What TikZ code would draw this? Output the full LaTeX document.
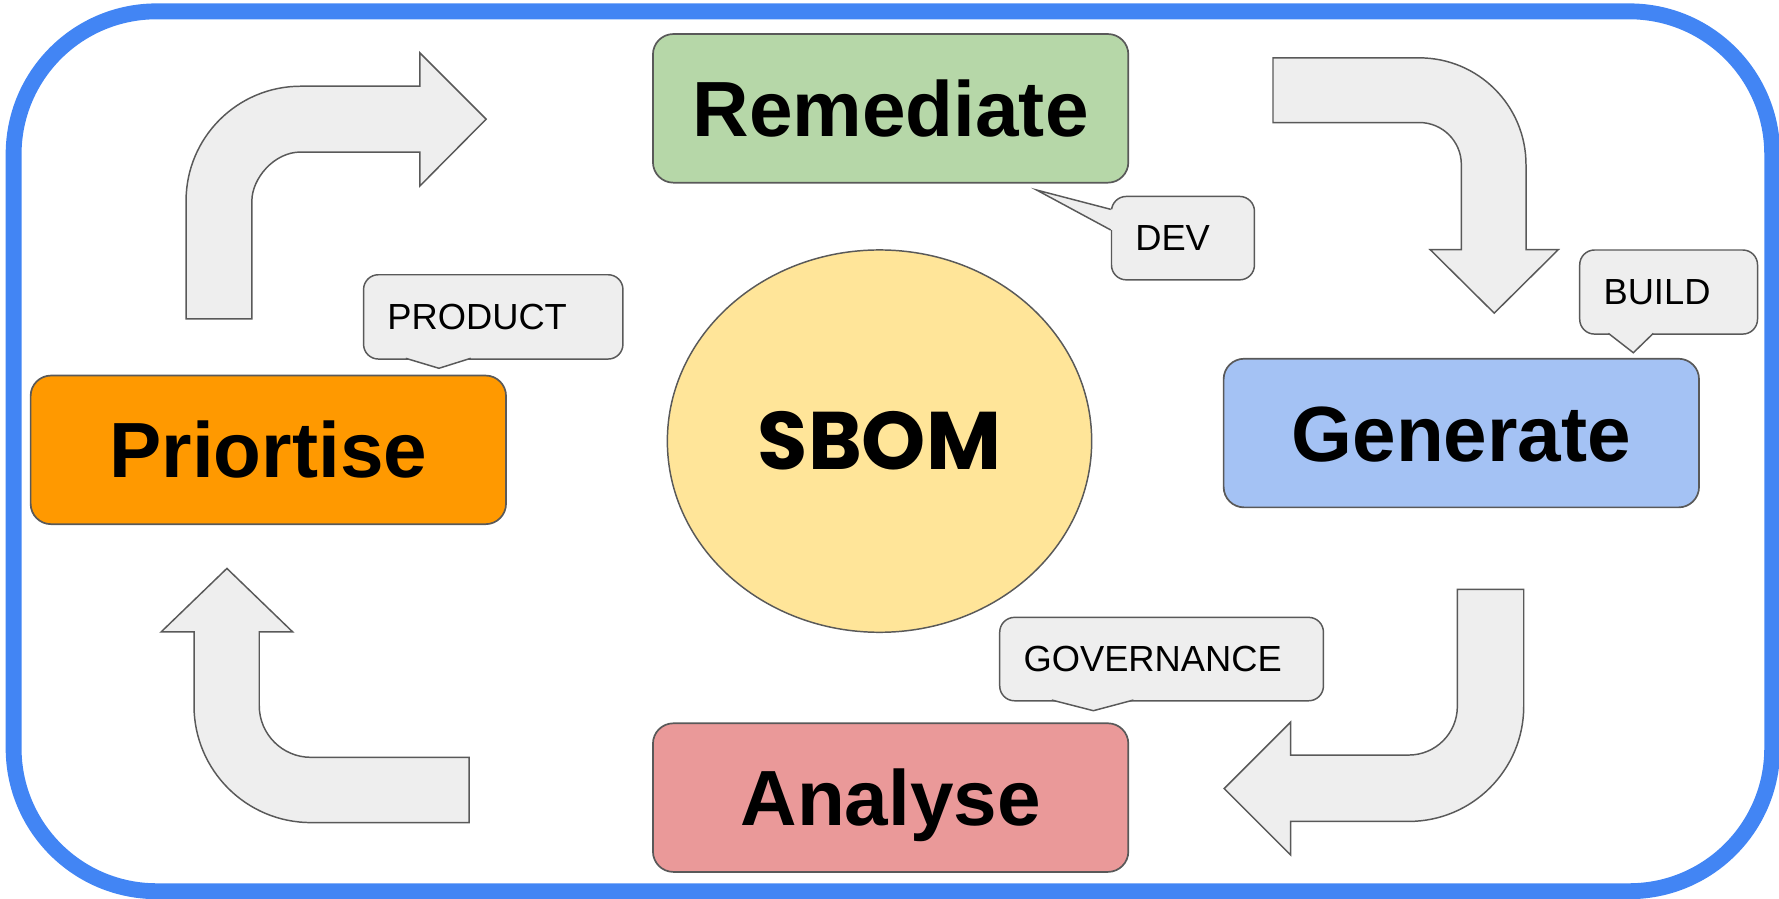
\documentclass[tikz,border=0pt]{standalone}
\usepackage{fontspec}
\setmainfont{Liberation Sans}
\newfontfamily\sbomfont{Poppins}
\usetikzlibrary{shapes.geometric}

\definecolor{framblue}{HTML}{4285F4}
\definecolor{linegray}{HTML}{595959}
\definecolor{boxgray}{HTML}{EEEEEE}
\definecolor{remgreen}{HTML}{B6D7A8}
\definecolor{genblue}{HTML}{A4C2F4}
\definecolor{anared}{HTML}{EA9999}
\definecolor{priorange}{HTML}{FF9900}
\definecolor{sbomyellow}{HTML}{FFE599}

\begin{document}
\begin{tikzpicture}[x=1pt, y=-1pt,
    stage/.style={draw=linegray, line width=1.5pt, rounded corners=18pt,
        minimum width=419pt, minimum height=131pt, inner sep=0pt,
        text height=49.5pt, text depth=0pt,
        font=\fontsize{69}{80}\selectfont\bfseries},
    callout/.style={draw=linegray, fill=boxgray, line width=1.3pt, rounded corners=13pt,
        anchor=north west, inner xsep=21pt, inner ysep=0pt, align=left,
        font=\fontsize{32}{38}\selectfont},
    blockarrow/.style={draw=linegray, fill=boxgray, line width=1.3pt, line join=miter}]

    \useasboundingbox (0,0) rectangle (1568,792);

    % outer frame
    \draw[framblue, line width=14pt, rounded corners=126pt] (12,10) rectangle (1562,785.5);

    % curved arrows round the cycle
    \draw[blockarrow] (164,281) -- (164,177) .. controls (164,121.2) and (209.2,76) .. (265,76)
        -- (370,76) -- (370,46.5) -- (428.5,105) -- (370,164) -- (370,134) -- (265,134)
        .. controls (241.3,134) and (222,157.7) .. (222,177) -- (222,281) -- cycle;
    \draw[blockarrow] (1122,51) -- (1251,51) .. controls (1302.9,51) and (1345,93.1) .. (1345,145)
        -- (1345,220) -- (1373.5,220) -- (1317,276) -- (1260.5,220) -- (1288,220) -- (1288,145)
        .. controls (1288,124.6) and (1271.4,108) .. (1251,108) -- (1122,108) -- cycle;
    \draw[blockarrow] (1284.5,519.5) -- (1343,519.5) -- (1343,622.5)
        .. controls (1343,678.6) and (1297.6,724) .. (1241.5,724) -- (1137.5,724) -- (1137.5,753.5)
        -- (1079,695) -- (1137.5,636.5) -- (1137.5,665.5) -- (1241.5,665.5)
        .. controls (1265.3,665.5) and (1284.5,646.3) .. (1284.5,622.5) -- cycle;
    \draw[blockarrow] (413.5,725) -- (274,725) .. controls (217.1,725) and (171,678.9) .. (171,622)
        -- (171,557) -- (142,557) -- (200,501) -- (258,557) -- (228.5,557) -- (228.5,622)
        .. controls (228.5,647.1) and (248.9,667.5) .. (274,667.5) -- (413.5,667.5) -- cycle;

    % stages
    \node[stage, fill=remgreen] (remediate) at (785,95.5) {Remediate};
    \node[stage, fill=genblue] (generate) at (1288,381.7) {Generate};
    \node[stage, fill=anared] (analyse) at (785,703) {Analyse};
    \node[stage, fill=priorange] (priortise) at (236.5,396.5) {Priortise};

    % centre
    \node[ellipse, draw=linegray, line width=1.3pt, fill=sbomyellow, inner sep=0pt,
        minimum width=374pt, minimum height=337pt,
        font=\fontsize{72}{80}\selectfont\sbomfont\bfseries] (sbom) at (775.2,388.8) {SBOM};

    % callouts
    \node[callout, minimum height=74.3pt, text width=186.6pt] (product) at (319.8,241.5) {PRODUCT};
    \fill[boxgray] (357.6,313) -- (357.6,315.8) -- (386.9,324.6) -- (414.9,315.8) -- (414.9,313) -- cycle;
    \draw[linegray, line width=1.3pt] (357.6,315.8) -- (386.9,324.6) -- (414.9,315.8);

    \node[callout, minimum height=73.5pt, text width=84pt] (dev) at (979,172.5) {DEV};
    \fill[boxgray] (981.5,184.5) -- (979,184.5) -- (913.7,167.5) -- (979,202.7) -- (981.5,202.7) -- cycle;
    \draw[linegray, line width=1.3pt] (979,184.5) -- (913.7,167.5) -- (979,202.7);

    \node[callout, minimum height=74.1pt, text width=114.7pt] (build) at (1391.7,219.7) {BUILD};
    \fill[boxgray] (1417.6,291) -- (1417.6,293.8) -- (1439.6,310.9) -- (1457.2,293.8) -- (1457.2,291) -- cycle;
    \draw[linegray, line width=1.3pt] (1417.6,293.8) -- (1439.6,310.9) -- (1457.2,293.8);

    \node[callout, minimum height=73.5pt, text width=243.3pt] (governance) at (880.5,543.5) {GOVERNANCE};
    \fill[boxgray] (927,614) -- (927,617) -- (963.7,626.4) -- (999,617) -- (999,614) -- cycle;
    \draw[linegray, line width=1.3pt] (927,617) -- (963.7,626.4) -- (999,617);
\end{tikzpicture}
\end{document}
